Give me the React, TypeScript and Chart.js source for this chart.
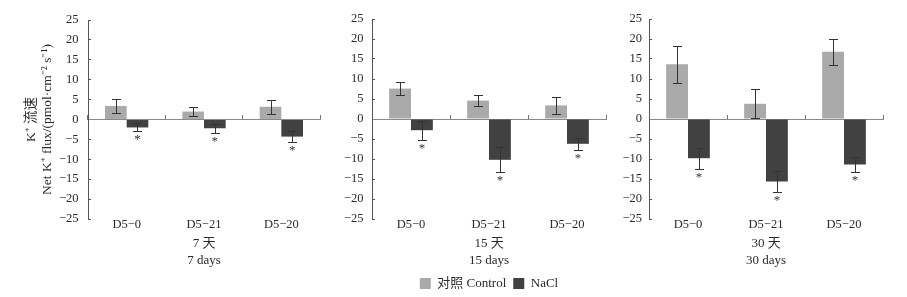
import React, { useEffect, useRef } from "react";
import { Chart, registerables } from "chart.js";

Chart.register(...registerables);

// ---------- data ----------
const categories = ["D5−0", "D5−21", "D5−20"];
const legendLabels = ["对照 Control", "NaCl"];
const yTitleLines = ["K⁺ 流速", "Net K⁺ flux/(pmol·cm⁻² s⁻¹)"];
const yMin = -25;
const yMax = 25;
const yStep = 5;

const days7Title = ["7 天", "7 days"];
const days7Control = [3.4, 2.0, 3.2];
const days7ControlErr = [1.8, 1.2, 1.7];
const days7NaCl = [-2.0, -2.2, -4.3];
const days7NaClErr = [1.0, 1.1, 1.4];
const days7Star = [true, true, true];

const days15Title = ["15 天", "15 days"];
const days15Control = [7.6, 4.6, 3.4];
const days15ControlErr = [1.7, 1.4, 2.2];
const days15NaCl = [-2.8, -10.2, -6.2];
const days15NaClErr = [2.4, 3.1, 1.5];
const days15Star = [true, true, true];

const days30Title = ["30 天", "30 days"];
const days30Control = [13.7, 3.8, 16.8];
const days30ControlErr = [4.6, 3.6, 3.2];
const days30NaCl = [-9.8, -15.6, -11.4];
const days30NaClErr = [2.6, 2.7, 1.8];
const days30Star = [true, true, true];

// ---------- style ----------
const SERIF = "'Liberation Serif', 'Noto Sans CJK SC', serif";
const TEXT = "#2a2a2a";
const CONTROL_COLOR = "#aaaaaa";
const NACL_COLOR = "#414141";

const errorBarPlugin = {
  id: "errorBars",
  afterDatasetsDraw(chart: any) {
    const { ctx } = chart;
    const y = chart.scales.y;
    chart.data.datasets.forEach((ds: any, i: number) => {
      const meta = chart.getDatasetMeta(i);
      meta.data.forEach((el: any, j: number) => {
        const v = ds.data[j];
        const e = ds.errors[j];
        const yTop = Math.round(y.getPixelForValue(v + e)) + 0.5;
        const yBot = Math.round(y.getPixelForValue(v - e)) + 0.5;
        const x = Math.round(el.x) + 0.5;
        ctx.save();
        ctx.strokeStyle = "#333";
        ctx.lineWidth = 1;
        ctx.beginPath();
        ctx.moveTo(x, yTop);
        ctx.lineTo(x, yBot);
        ctx.moveTo(x - 4.5, yTop);
        ctx.lineTo(x + 4.5, yTop);
        ctx.moveTo(x - 4.5, yBot);
        ctx.lineTo(x + 4.5, yBot);
        ctx.stroke();
        if (ds.stars && ds.stars[j]) {
          ctx.fillStyle = "#333";
          ctx.font = "13px " + SERIF;
          ctx.textAlign = "center";
          ctx.textBaseline = "top";
          ctx.fillText("*", el.x, yBot + 2);
        }
        ctx.restore();
      });
    });
  },
};

const fmt = (v: number) => (v < 0 ? "−" + Math.abs(v) : String(v));

type PanelProps = {
  title: string[];
  control: number[];
  controlErr: number[];
  nacl: number[];
  naclErr: number[];
  naclStar: boolean[];
  showYTitle: boolean;
  showLegend: boolean;
  left: number;
  width: number;
  height: number;
  yWidth: number;
  padRight: number;
  padBottom: number;
  tickPad: number;
};

function Panel(p: PanelProps) {
  const ref = useRef<HTMLCanvasElement | null>(null);
  useEffect(() => {
    if (!ref.current) return;
    const chart = new Chart(ref.current, {
      type: "bar",
      data: {
        labels: categories,
        datasets: [
          {
            label: legendLabels[0],
            data: p.control,
            backgroundColor: CONTROL_COLOR,
            borderWidth: 0,
            errors: p.controlErr,
          } as any,
          {
            label: legendLabels[1],
            data: p.nacl,
            backgroundColor: NACL_COLOR,
            borderWidth: 0,
            errors: p.naclErr,
            stars: p.naclStar,
          } as any,
        ],
      },
      options: {
        responsive: false,
        animation: false,
        layout: { padding: { top: 19, left: 0, right: p.padRight, bottom: p.padBottom } },
        datasets: { bar: { categoryPercentage: 0.56, barPercentage: 1 } },
        plugins: {
          tooltip: { enabled: false },
          legend: {
            display: p.showLegend,
            position: "bottom",
            fullSize: false,
            labels: {
              boxWidth: 11,
              boxHeight: 11,
              padding: 7,
              color: TEXT,
              font: { family: SERIF, size: 13 },
            },
          },
        },
        scales: {
          x: {
            type: "category",
            offset: true,
            grid: { display: false, drawTicks: false },
            border: { display: false },
            ticks: {
              color: TEXT,
              font: { family: SERIF, size: 12.5, lineHeight: 1 },
              padding: -1,
              maxRotation: 0,
              autoSkip: false,
            },
            title: {
              display: true,
              text: p.title,
              color: TEXT,
              font: { family: SERIF, size: 13, lineHeight: 16.5 / 13 },
              padding: { top: 0, bottom: 1.5 },
            },
            afterFit: (s: any) => {
              s.height = 51;
            },
          },
          x0: {
            type: "category",
            position: { y: 0 } as any,
            offset: true,
            grid: {
              offset: true,
              drawOnChartArea: false,
              drawTicks: true,
              tickLength: -5,
              tickColor: "#777",
              tickWidth: 1,
            },
            border: { color: "#8a8a8a", width: 1 },
            ticks: { display: false },
            afterFit: (s: any) => {
              s.height = 0;
            },
          } as any,
          y: {
            min: yMin,
            max: yMax,
            ticks: {
              stepSize: yStep,
              color: TEXT,
              font: { family: SERIF, size: 12.5 },
              padding: p.tickPad,
              callback: (v: any) => fmt(Number(v)),
            },
            grid: {
              drawOnChartArea: false,
              drawTicks: true,
              tickLength: -3,
              tickColor: "#555",
              tickWidth: 1,
            },
            border: { color: "#555", width: 1 },
            title: {
              display: p.showYTitle,
              text: yTitleLines,
              color: TEXT,
              font: { family: SERIF, size: 13.5, lineHeight: 16 / 13.5 },
              padding: { top: 23.7, bottom: 0 },
            },
            afterFit: (s: any) => {
              s.width = p.yWidth;
            },
          },
        },
      } as any,
      plugins: [errorBarPlugin],
    });
    return () => chart.destroy();
  }, []);
  return (
    <canvas
      ref={ref}
      width={p.width}
      height={p.height}
      style={{ position: "absolute", left: p.left, top: 0, width: p.width, height: p.height }}
    />
  );
}

export default function App() {
  return (
    <div
      style={{
        position: "fixed",
        left: 0,
        top: 0,
        width: 907,
        height: 297,
        overflow: "hidden",
        background: "#fff",
      }}
    >
      <Panel
        title={days7Title}
        control={days7Control}
        controlErr={days7ControlErr}
        nacl={days7NaCl}
        naclErr={days7NaClErr}
        naclStar={days7Star}
        showYTitle={true}
        showLegend={false}
        left={0}
        width={322}
        height={297}
        yWidth={88}
        padRight={2}
        padBottom={27}
        tickPad={12.5}
      />
      <Panel
        title={days15Title}
        control={days15Control}
        controlErr={days15ControlErr}
        nacl={days15NaCl}
        naclErr={days15NaClErr}
        naclStar={days15Star}
        showYTitle={false}
        showLegend={true}
        left={322}
        width={286}
        height={300}
        yWidth={50}
        padRight={2}
        padBottom={0}
        tickPad={11.5}
      />
      <Panel
        title={days30Title}
        control={days30Control}
        controlErr={days30ControlErr}
        nacl={days30NaCl}
        naclErr={days30NaClErr}
        naclStar={days30Star}
        showYTitle={false}
        showLegend={false}
        left={608}
        width={299}
        height={297}
        yWidth={41}
        padRight={24}
        padBottom={27}
        tickPad={10}
      />
    </div>
  );
}
